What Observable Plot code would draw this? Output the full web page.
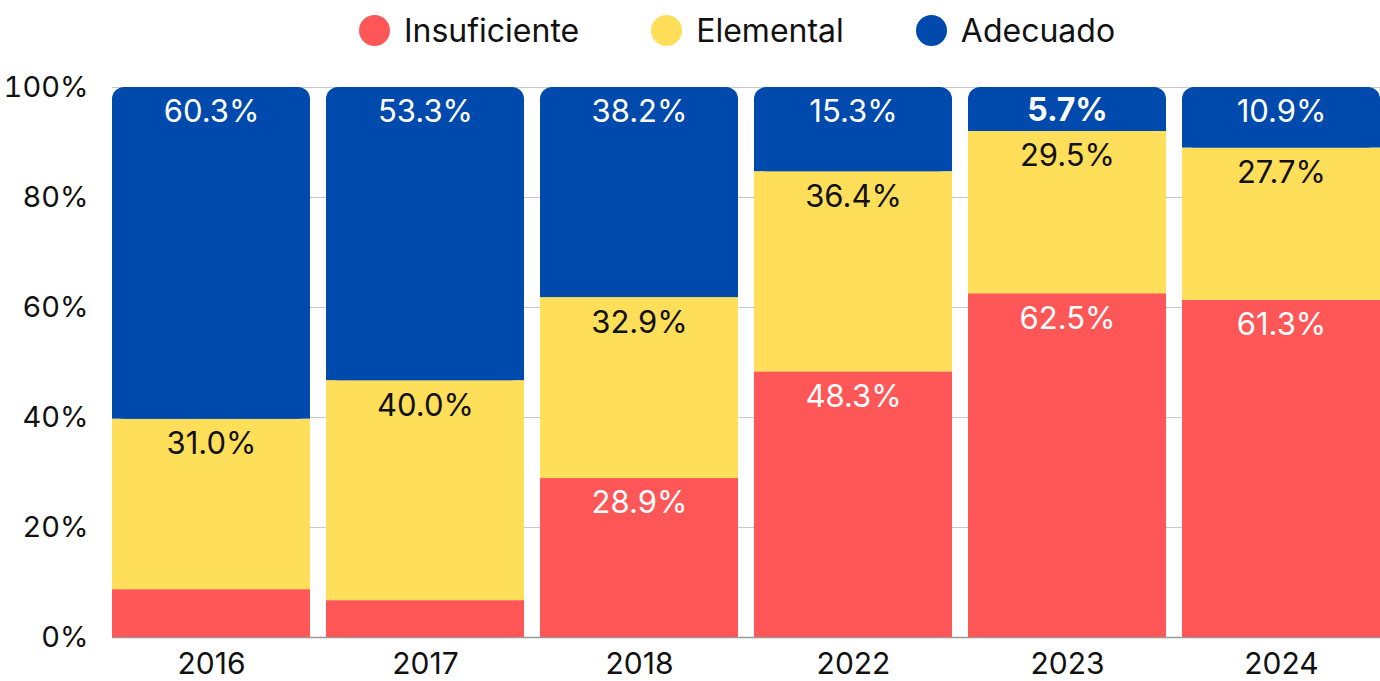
<!DOCTYPE html>
<html>
<head>
<meta charset="utf-8">
<script src="https://cdn.jsdelivr.net/npm/d3@7"></script>
<script src="https://cdn.jsdelivr.net/npm/@observablehq/plot@0.6"></script>
<style>
  html, body { margin: 0; padding: 0; background: #fff; }
  body { width: 1380px; height: 681px; overflow: hidden; font-family: Inter, "Noto Sans", sans-serif; }
  #legend { height: 60px; display: flex; justify-content: center; align-items: center; gap: 72px; padding-left: 94px; box-sizing: border-box; }
  .item { display: flex; align-items: center; gap: 14px; font-size: 32px; color: #111; }
  .dot { width: 31px; height: 31px; border-radius: 50%; }
  #chart svg { display: block; }
</style>
</head>
<body>
<div id="legend"></div>
<div id="chart"></div>
<script>
const years = ["2016", "2017", "2018", "2022", "2023", "2024"];
const insuficiente = [8.7, 6.7, 28.9, 48.3, 62.5, 61.3];
const elemental = [31.0, 40.0, 32.9, 36.4, 29.5, 27.7];
const adecuado = [60.3, 53.3, 38.2, 15.3, 5.7, 10.9];
const highlightYear = "2023";
const total = 100;
const levels = ["Insuficiente", "Elemental", "Adecuado"];
const colors = ["#FF5757", "#FFDE59", "#004AAD"];
const yTicks = [0, 20, 40, 60, 80, 100];

// legend
const legend = document.getElementById("legend");
levels.forEach((l, i) => {
  const it = document.createElement("div");
  it.className = "item";
  it.innerHTML = `<span class="dot" style="background:${colors[i]}"></span><span>${l}</span>`;
  legend.appendChild(it);
});

const rows = years.map((y, i) => ({
  year: y,
  ins: insuficiente[i], ele: elemental[i], ade: adecuado[i],
  insTop: insuficiente[i],
  eleTop: insuficiente[i] + elemental[i]
}));

const fmt = v => v.toFixed(1) + "%";
const font = "Inter, 'Noto Sans', sans-serif";

const chart = Plot.plot({
  width: 1380,
  height: 621,
  marginTop: 27,
  marginBottom: 44,
  marginLeft: 112,
  marginRight: 0,
  style: { fontFamily: font, fontSize: "29px", color: "#111", background: "#fff", overflow: "visible" },
  x: { domain: years, paddingInner: 0.075, paddingOuter: 0, label: null },
  y: { domain: [0, 100], ticks: yTicks, tickFormat: d => d + "%", label: null, tickSize: 0, tickPadding: 24 },
  marks: [
    Plot.gridY(yTicks, { stroke: "#c8c8c8", strokeOpacity: 1, strokeWidth: 1 }),
    Plot.ruleY([0], { stroke: "#999", strokeWidth: 1.5 }),
    Plot.rectY(rows, { x: "year", y1: 0, y2: "insTop", fill: colors[0] }),
    Plot.rectY(rows, { x: "year", y1: "insTop", y2: "eleTop", fill: colors[1] }),
    Plot.rectY(rows, { x: "year", y1: "eleTop", y2: () => total, fill: colors[2], rx: 12 }),
    Plot.rectY(rows, { x: "year", y1: "eleTop", y2: d => (d.eleTop + total) / 2, fill: colors[2] }),
    Plot.axisX({ fontSize: 30, tickSize: 0, tickPadding: 15, label: null }),
    Plot.text(rows.filter(d => d.ins >= 10), { x: "year", y: "insTop", text: d => fmt(d.ins), dy: 25, fill: "#fff", fontSize: 31, lineAnchor: "middle" }),
    Plot.text(rows, { x: "year", y: "eleTop", text: d => fmt(d.ele), dy: 25, fill: "#111", fontSize: 31, lineAnchor: "middle" }),
    Plot.text(rows.filter(d => d.year !== highlightYear), { x: "year", y: () => total, text: d => fmt(d.ade), dy: 25, fill: "#fff", fontSize: 31, lineAnchor: "middle" }),
    Plot.text(rows.filter(d => d.year === highlightYear), { x: "year", y: () => total, text: d => fmt(d.ade), dy: 23, fill: "#fff", fontSize: 32, fontWeight: "bold", lineAnchor: "middle" })
  ]
});
document.getElementById("chart").appendChild(chart);
</script>
</body>
</html>
